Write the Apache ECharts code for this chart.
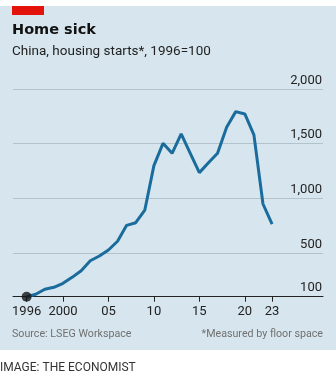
<!DOCTYPE html>
<html>
<head>
<meta charset="utf-8">
<script src="https://cdn.jsdelivr.net/npm/echarts@6/dist/echarts.min.js"></script>
<style>
html,body{margin:0;padding:0;background:#fff;}
#c{width:336px;height:379px;}
</style>
</head>
<body>
<div id="c"></div>
<script>
const years = [1996,1997,1998,1999,2000,2001,2002,2003,2004,2005,2006,2007,2008,2009,2010,2011,2012,2013,2014,2015,2016,2017,2018,2019,2020,2021,2022,2023];
const starts = [100,122,168,186,222,277,338,429,472,527,607,753,777,893,1299,1503,1412,1589,1412,1235,1326,1412,1650,1793,1772,1580,948,765];
const xTicks = [1996,2000,2005,2010,2015,2020,2023];
const yTicks = [100,500,1000,1500,2000];

const FONT = 'Roboto';
const chart = echarts.init(document.getElementById('c'), null, {renderer:'canvas'});
chart.setOption({
  animation:false,
  backgroundColor:'#ffffff',
  textStyle:{fontFamily:FONT},
  graphic:[
    {type:'rect', z:-10, shape:{x:0,y:6,width:336,height:344}, style:{fill:'#d7e6ee'}},
    {type:'rect', z:-5, shape:{x:12,y:6,width:32,height:9}, style:{fill:'#e3120b'}},
    {type:'text', left:12, top:23, style:{text:'Home sick', font:'bold 14.5px "DejaVu Sans"', fill:'#121212'}},
    {type:'text', left:12, top:45, style:{text:'China, housing starts*, 1996=100', font:'13.5px '+FONT, fill:'#222'}},
    {type:'text', left:12, top:329, style:{text:'Source: LSEG Workspace', font:'10.7px '+FONT, fill:'#707070'}},
    {type:'text', right:13, top:329, style:{text:'*Measured by floor space', font:'10.7px '+FONT, fill:'#707070'}},
    {type:'text', left:0, top:362, style:{text:'IMAGE: THE ECONOMIST', font:'12px '+FONT, fill:'#333'}}
  ],
  grid:{left:13, right:13, top:89, bottom:82.3},
  xAxis:{
    type:'value', min:1994.5, max:2028.6,
    axisLine:{show:true, lineStyle:{color:'#222', width:1}},
    axisTick:{show:true, customValues:xTicks, length:5, lineStyle:{color:'#222'}},
    axisLabel:{customValues:xTicks, color:'#222', fontSize:13, margin:9,
      formatter:v => (v===1996||v===2000) ? String(v) : String(v).slice(2)},
    splitLine:{show:false}
  },
  yAxis:{
    type:'value', position:'right', min:100, max:2000,
    axisLine:{show:false}, axisTick:{show:false, customValues:yTicks},
    axisLabel:{customValues:yTicks, inside:true, margin:1, verticalAlign:'bottom', color:'#222', fontSize:13,
      formatter:v => v.toLocaleString('en-US'), padding:[0,0,2,0]},
    splitLine:{show:true, lineStyle:{color:'#b3c3cc', width:1}}
  },
  series:[
    {type:'line', data:years.map((y,i)=>[y,starts[i]]), symbol:'none', lineStyle:{color:'#1a6c9c', width:3}, z:3},
    {type:'scatter', data:[[years[0], starts[0]]], symbolSize:10, itemStyle:{color:'#141414'}, z:5}
  ]
});
</script>
</body>
</html>
